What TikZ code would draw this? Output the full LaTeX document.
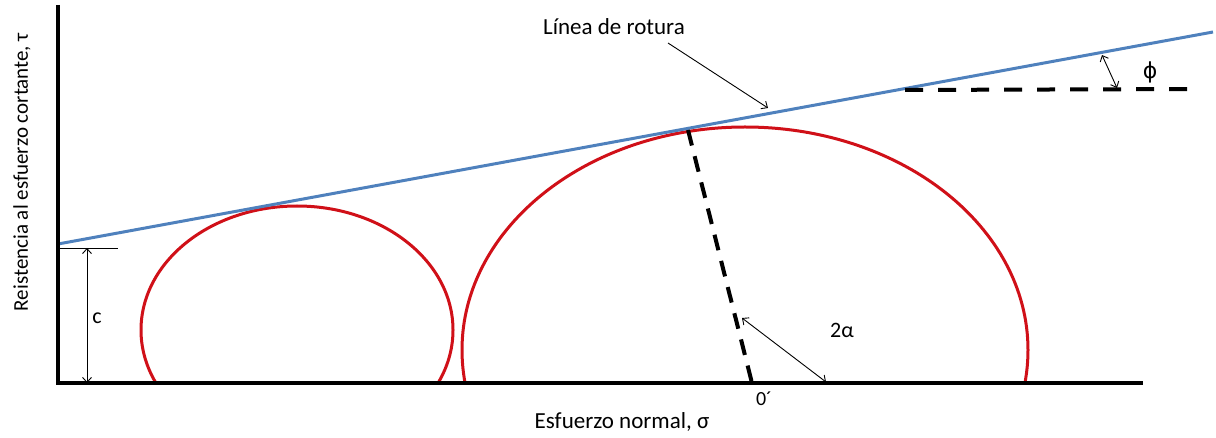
\documentclass[tikz,border=0pt]{standalone}
\usepackage{fontspec}
\setmainfont{Carlito}
\newfontfamily\dvs{DejaVu Sans}
\usetikzlibrary{arrows.meta}
\definecolor{lineblue}{RGB}{79,129,189}
\definecolor{circred}{RGB}{208,16,24}
\begin{document}
\begin{tikzpicture}[x=1pt,y=-1pt,
  axis/.style={line width=4pt,line join=miter},
  failline/.style={draw=lineblue,line width=3pt},
  mohr/.style={draw=circred,line width=3pt},
  thickdash/.style={line width=4pt,dash pattern=on 16pt off 11pt},
  thin/.style={line width=0.9pt},
  dimarrow/.style={thin,{Straight Barb[length=5pt,width=9pt]}-{Straight Barb[length=5pt,width=9pt]}},
  ptrarrow/.style={thin,-{Straight Barb[length=5pt,width=9pt]}},
  lbl/.style={inner sep=0pt,font=\fontsize{22}{26}\selectfont}]
\useasboundingbox (0,0) rectangle (1216,438);
% Mohr circles
\begin{scope}
  \clip (0,0) rectangle (1216,383);
  \draw[mohr] (297,330) ellipse [x radius=156pt, y radius=124pt];
  \draw[mohr] (745,350) ellipse [x radius=283pt, y radius=223pt];
\end{scope}
% failure line
\coordinate (fl1) at (58,244);
\coordinate (fl2) at (1213,32);
\draw[failline] (fl1) -- (fl2);
% axes
\coordinate (ytop) at (58,5);
\coordinate (orig) at (58,383);
\coordinate (xend) at (1143,383);
\draw[axis] (ytop) -- (orig) -- (xend);
% cohesion
\coordinate (cy) at (58,248);
\coordinate (ct) at (118,248);
\draw[thin] (cy) -- (ct);
\coordinate (ca) at (87,248);
\coordinate (cb) at (87,383);
\draw[dimarrow] (ca) -- (cb);
\node[lbl] (clab) at (97,318) {c};
% radius to tangent point
\coordinate (tp) at (688,130);
\coordinate (cen) at (752,383);
\draw[thickdash] (tp) -- (cen);
% 2 alpha
\coordinate (aa) at (742,318);
\coordinate (ab) at (826,382);
\draw[dimarrow] (aa) -- (ab);
\node[lbl] (alab) at (842,330) {2α};
\node[lbl,font=\fontsize{20}{24}\selectfont] (olab) at (764,399) {0´};
% phi
\coordinate (ph1) at (905,90);
\coordinate (ph2) at (1196,89);
\draw[thickdash,dash pattern=on 18pt off 15pt] (ph1) -- (ph2);
\coordinate (pa) at (1102,55);
\coordinate (pb) at (1117,88);
\draw[dimarrow] (pa) -- (pb);
\node[lbl] (philab) at (1150,72) {\dvs ϕ};
% failure line label
\node[lbl,font=\fontsize{23}{27}\selectfont] (lrot) at (614,27) {Línea de rotura};
\coordinate (la) at (668,43);
\coordinate (lb) at (768,108);
\draw[ptrarrow] (la) -- (lb);
% axis labels
\node[lbl,font=\fontsize{23}{27}\selectfont] (xlab) at (622,422) {Esfuerzo normal, σ};
\node[lbl,font=\fontsize{21}{25}\selectfont,rotate=90] (ylab) at (22,172) {Reistencia al esfuerzo cortante, τ};
\end{tikzpicture}
\end{document}
